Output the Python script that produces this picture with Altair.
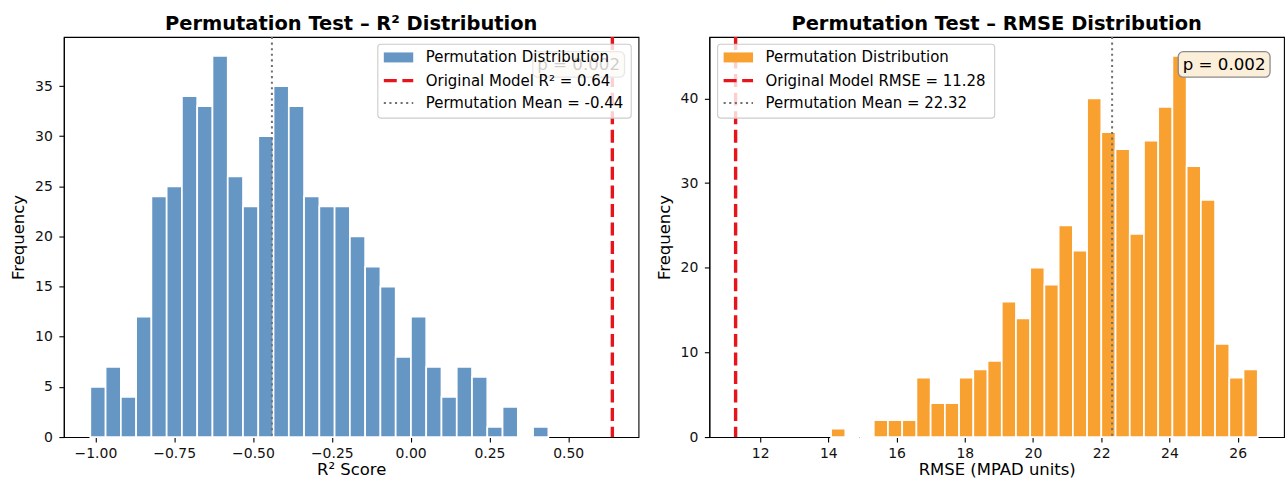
import altair as alt
import numpy as np
import pandas as pd

FONT = "DejaVu Sans"
RED = "#e8141c"
GRAY = "#707070"
BLUE = "#6596c4"
ORANGE = "#f8a030"

dist_label = "Permutation Distribution"
p_text = "p = 0.002"

# ---- R² panel ----
r2_counts = [5, 7, 4, 12, 24, 25, 34, 33, 38, 26, 23, 30, 35, 33, 24,
             23, 23, 20, 17, 15, 8, 12, 7, 4, 7, 6, 1, 3, 0, 1]
r2_bin_min = -1.016
r2_bin_max = 0.437
r2_original = 0.64
r2_perm_mean = -0.44
r2_xticks = [-1.0, -0.75, -0.5, -0.25, 0.0, 0.25, 0.5]
r2_yticks = [0, 5, 10, 15, 20, 25, 30, 35]
r2_xdomain = [-1.10, 0.723]
r2_ydomain = [0, 39.9]

# ---- RMSE panel ----
rmse_counts = [1, 0, 0, 2, 2, 2, 7, 4, 4, 7, 8, 9, 16, 14, 20, 18, 25, 22,
               40, 36, 34, 24, 35, 39, 45, 32, 28, 11, 7, 8]
rmse_bin_min = 14.08
rmse_bin_max = 26.59
rmse_original = 11.28
rmse_perm_mean = 22.32
rmse_xticks = [12, 14, 16, 18, 20, 22, 24, 26]
rmse_yticks = [0, 10, 20, 30, 40]
rmse_xdomain = [10.51, 27.36]
rmse_ydomain = [0, 47.25]

W, H = 576, 401
ORIG_DASH = [13, 5.6]
MEAN_DASH = [2.1, 3.5]


def one(txt):
    return pd.DataFrame({"t": [txt]})


def text_at(txt, x, y, size, align="left"):
    return alt.Chart(one(txt)).mark_text(
        font=FONT, fontSize=size, align=align, baseline="middle", color="black"
    ).encode(text="t:N", x=alt.value(x), y=alt.value(y))


def legend_layers(box_x, box_w, bar_color, orig_label, mean_label):
    box_top, box_bot = 7.3, 81.3
    rows = [20.5, 43.7, 66.3]
    sx0 = box_x + 6
    sx1 = sx0 + 29.5
    tx = sx1 + 12.5
    box = alt.Chart(one("legend")).mark_rect(
        fill="white", fillOpacity=0.8, stroke="#cccccc", strokeWidth=1.1, cornerRadius=3
    ).encode(x=alt.value(box_x), x2=alt.value(box_x + box_w),
             y=alt.value(box_top), y2=alt.value(box_bot))
    sw_bar = alt.Chart(one(dist_label)).mark_rect(color=bar_color).encode(
        x=alt.value(sx0), x2=alt.value(sx1), y=alt.value(rows[0] - 5), y2=alt.value(rows[0] + 5))
    sw_orig = alt.Chart(one(orig_label)).mark_rule(
        color=RED, strokeDash=ORIG_DASH, strokeWidth=3.4).encode(
        x=alt.value(sx0), x2=alt.value(sx1), y=alt.value(rows[1]))
    sw_mean = alt.Chart(one(mean_label)).mark_rule(
        color=GRAY, strokeDash=MEAN_DASH, strokeWidth=2.0).encode(
        x=alt.value(sx0), x2=alt.value(sx1), y=alt.value(rows[2]))
    labels = [text_at(t, tx, r, 15) for t, r in zip([dist_label, orig_label, mean_label], rows)]
    return [box, sw_bar, sw_orig, sw_mean] + labels


def panel(title, xtitle, counts, lo, hi, orig, mean, orig_label, mean_label,
          bar_color, xdomain, ydomain, xticks, yticks, xfmt, legend_x, legend_w):
    edges = np.linspace(lo, hi, len(counts) + 1)
    bars = pd.DataFrame({"start": edges[:-1], "end": edges[1:], "count": counts})
    xscale = alt.Scale(domain=xdomain, nice=False, zero=False)
    yscale = alt.Scale(domain=ydomain, nice=False, zero=True)
    xaxis = alt.Axis(values=xticks, format=xfmt, title=xtitle)
    bar = alt.Chart(bars).mark_bar(
        color=bar_color, stroke="white", strokeWidth=1.7, opacity=1).encode(
        x=alt.X("start:Q", scale=xscale, axis=xaxis),
        x2="end:Q",
        y=alt.Y("count:Q", scale=yscale,
                axis=alt.Axis(values=yticks, format="d", title="Frequency")),
        y2=alt.datum(0),
    )
    orig_rule = alt.Chart(pd.DataFrame({"v": [orig]})).mark_rule(
        color=RED, strokeDash=ORIG_DASH, strokeWidth=3.4).encode(
        x=alt.X("v:Q", scale=xscale, axis=xaxis))
    mean_rule = alt.Chart(pd.DataFrame({"v": [mean]})).mark_rule(
        color=GRAY, strokeDash=MEAN_DASH, strokeWidth=2.0).encode(
        x=alt.X("v:Q", scale=xscale, axis=xaxis))
    pbox = alt.Chart(one(p_text)).mark_rect(
        fill="#fbefda", stroke="#8a8a8a", strokeWidth=1.3, cornerRadius=5).encode(
        x=alt.value(470), x2=alt.value(562), y=alt.value(14.7), y2=alt.value(40.3))
    ptxt = text_at(p_text, 557.5, 28, 16.7, align="right")
    layers = [bar, mean_rule, orig_rule, pbox, ptxt] + legend_layers(
        legend_x, legend_w, bar_color, orig_label, mean_label)
    return alt.layer(*layers).properties(
        width=W, height=H,
        title=alt.TitleParams(title, font=FONT, fontSize=19.5, fontWeight="bold",
                              anchor="middle", offset=4, dy=22, baseline="bottom",
                              color="black"),
    )


left = panel("Permutation Test – R² Distribution", "R² Score", r2_counts,
             r2_bin_min, r2_bin_max, r2_original, r2_perm_mean,
             f"Original Model R² = {r2_original:.2f}",
             f"Permutation Mean = {r2_perm_mean:.2f}",
             BLUE, r2_xdomain, r2_ydomain, r2_xticks, r2_yticks, ".2f", 314.7, 254)
right = panel("Permutation Test – RMSE Distribution", "RMSE (MPAD units)", rmse_counts,
              rmse_bin_min, rmse_bin_max, rmse_original, rmse_perm_mean,
              f"Original Model RMSE = {rmse_original:.2f}",
              f"Permutation Mean = {rmse_perm_mean:.2f}",
              ORANGE, rmse_xdomain, rmse_ydomain, rmse_xticks, rmse_yticks, "d", 8.3, 277.7)

chart = alt.hconcat(left, right, spacing=16).resolve_scale(
    x="independent", y="independent"
).properties(
    padding={"left": 10, "top": 12.5, "right": 3, "bottom": 2},
    background="white",
).configure_view(stroke="black", strokeWidth=1.1).configure_axis(
    grid=False, domainColor="black", domainWidth=1.1, tickColor="black",
    tickSize=5, tickWidth=1.1, labelFont=FONT, labelFontSize=14,
    labelColor="#111111", labelPadding=5, titleFont=FONT, titleFontSize=16.5,
    titleFontWeight="normal", titleColor="black", zindex=1,
).configure_axisX(titlePadding=1).configure_axisY(labelPadding=6.5, titlePadding=8)

chart.save("out.html", embed_options={"renderer": "svg", "actions": False})
